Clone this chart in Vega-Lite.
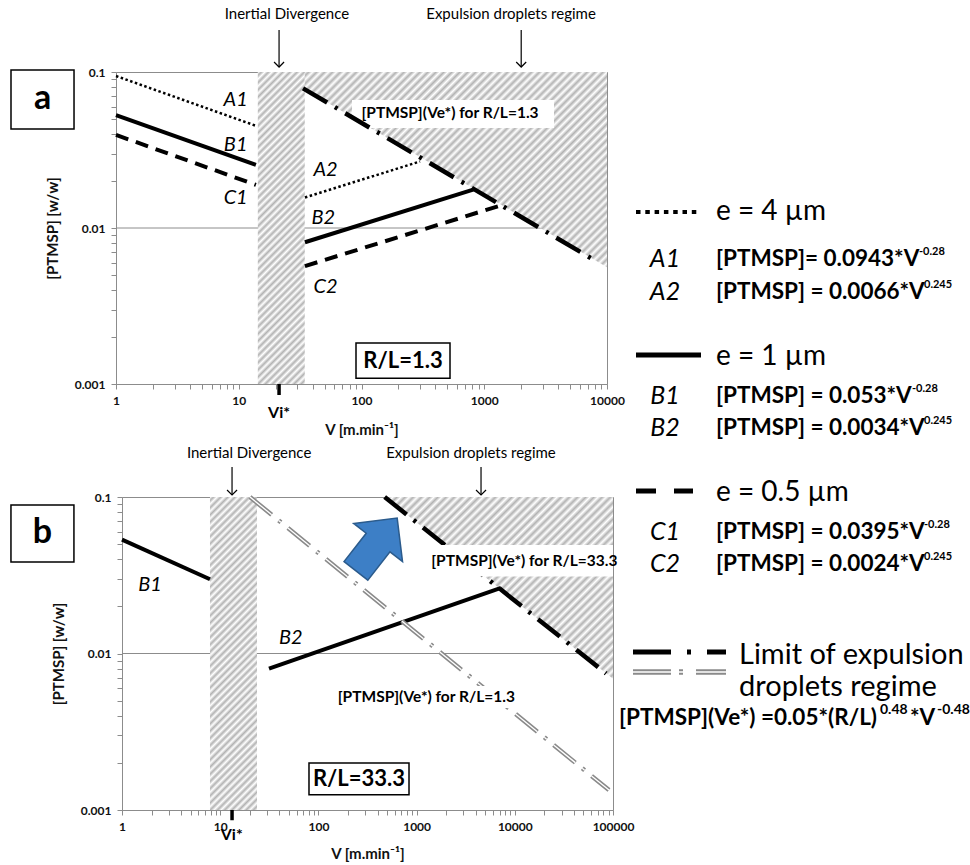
{
"$schema":"https://vega.github.io/schema/vega-lite/v6.json",
"padding":{"left":9,"top":6,"right":0,"bottom":0},
"background":"white",
"config":{"font":"Lato","view":{"stroke":"#8c8c8c","strokeWidth":1},
"axis":{"domainColor":"#8c8c8c","tickColor":"#8c8c8c","labelColor":"#111","titleColor":"#111","labelFontWeight":"bold","titleFontWeight":"bold","labelFontSize":12,"titleFontSize":15,"grid":false,"tickSize":5,"labelFlush":false,"labelOverlap":false},
"text":{"color":"#000"}},
"datasets":{
"aGrid":[{"v":1,"v2":10000,"c":0.01}],
"aBand":[{"v":14.3,"v2":34.5,"c":0.001,"c2":0.1}],
"aHatch":[{"v":34.5,"c":0.0775,"c2":0.1},{"v":10000,"c":0.00561,"c2":0.1}],
"aWhite":[{"v":83.7,"v2":3700,"c":0.0438,"c2":0.0662}],
"aBoxes":[{"v":90.2,"v2":526,"c":0.00109,"c2":0.00183},{"v":0.1395,"v2":0.455,"c":0.0431,"c2":0.103}],
"aLines":[
{"s":"A1","st":"dot","v":1,"c":0.0943},{"s":"A1","st":"dot","v":13.8,"c":0.0452},
{"s":"B1","st":"solid","v":1,"c":0.053},{"s":"B1","st":"solid","v":13.8,"c":0.0254},
{"s":"C1","st":"dash","v":1,"c":0.0395},{"s":"C1","st":"dash","v":13.8,"c":0.0189},
{"s":"A2","st":"dot","v":34.6,"c":0.0157},{"s":"A2","st":"dot","v":300,"c":0.0267},
{"s":"B2","st":"solid","v":34.6,"c":0.0081},{"s":"B2","st":"solid","v":813,"c":0.0176},
{"s":"C2","st":"dash","v":34.6,"c":0.0057},{"s":"C2","st":"dash","v":1340,"c":0.0139},
{"s":"L","st":"dashdot","v":33.4,"c":0.0786},{"s":"L","st":"dashdot","v":8280,"c":0.00608}],
"aText":[
{"k":"lab","t":"A1","v":9.44,"c":0.0662},{"k":"lab","t":"B1","v":9.44,"c":0.034},{"k":"lab","t":"C1","v":9.44,"c":0.0155},
{"k":"lab","t":"A2","v":50.9,"c":0.0235},{"k":"lab","t":"B2","v":48.9,"c":0.01154},{"k":"lab","t":"C2","v":50.9,"c":0.0042},
{"k":"note","t":"[PTMSP](Ve*) for R/L=1.3","v":526,"c":0.0543},
{"k":"box","t":"R/L=1.3","v":218,"c":0.0014},
{"k":"let","t":"a","v":0.252,"c":0.0667},
{"k":"ann","t":"Inertial Divergence","v":24.7,"c":0.2355},
{"k":"ann","t":"Expulsion droplets regime","v":1652,"c":0.2355},
{"k":"vi","t":"Vi*","v":21.3,"c":0.000652}],
"aArrows":[{"v":21.3,"c":0.1076,"c2":0.186},{"v":2000,"c":0.1076,"c2":0.186}],
"aVi":[{"v":21.3,"c":0.00085,"c2":0.001}],
"bGrid":[{"v":1,"v2":100000,"c":0.01}],
"bBand":[{"v":7.87,"v2":23.7,"c":0.001,"c2":0.1}],
"bHatch":[{"v":473,"c":0.1,"c2":0.1},{"v":100000,"c":0.0069,"c2":0.1}],
"bLines":[
{"s":"B1","st":"solid","v":1,"c":0.0534},{"s":"B1","st":"solid","v":7.87,"c":0.0298},
{"s":"B2","st":"solid","v":31.4,"c":0.008},{"s":"B2","st":"solid","v":7240,"c":0.0263},
{"s":"L33","st":"dashdot","v":473,"c":0.1},{"s":"L33","st":"dashdot","v":85000,"c":0.00746},
{"s":"L13","st":"gray","v":20.1,"c":0.1},{"s":"L13","st":"gray","v":91000,"c":0.00134}],
"bWhite":[{"v":1356,"v2":100000,"c":0.031,"c2":0.0493},{"v":151,"v2":10280,"c":0.00449,"c2":0.0062}],
"bBoxes":[{"v":80.2,"v2":837,"c":0.00125,"c2":0.002},{"v":0.074,"v2":0.324,"c":0.0385,"c2":0.0889}],
"bText":[
{"k":"lab","t":"B1","v":1.93,"c":0.0274},{"k":"lab","t":"B2","v":52.4,"c":0.0125},
{"k":"note","t":"[PTMSP](Ve*) for R/L=33.3","v":12500,"c":0.039},
{"k":"note","t":"[PTMSP](Ve*) for R/L=1.3","v":1256,"c":0.0053},
{"k":"box","t":"R/L=33.3","v":259,"c":0.00158},
{"k":"let","t":"b","v":0.155,"c":0.0585},
{"k":"ann","t":"Inertial Divergence","v":19.7,"c":0.191},
{"k":"ann","t":"Expulsion droplets regime","v":3580,"c":0.191},
{"k":"vi","t":"Vi*","v":13.1,"c":0.00069}],
"bArrows":[{"v":13.2,"c":0.103,"c2":0.1556},{"v":4530,"c":0.103,"c2":0.1556}],
"bVi":[{"v":13.2,"c":0.00086,"c2":0.001}],
"bBlue":[{"v":391,"c":0.0497}],
"legL":[
{"s":"dot","lx":20,"ly":140},{"s":"dot","lx":85,"ly":140},
{"s":"solid","lx":20,"ly":283},{"s":"solid","lx":85,"ly":283},
{"s":"dash","lx":20,"ly":419},{"s":"dash","lx":77,"ly":419},
{"s":"dd","lx":17,"ly":580},{"s":"dd","lx":110,"ly":580},
{"s":"gd","lx":17,"ly":600},{"s":"gd","lx":110,"ly":600}],
"leg":[
{"k":"e","t":"e = 4 µm","lx":100,"ly":140},
{"k":"e","t":"e = 1 µm","lx":100,"ly":285},
{"k":"e","t":"e = 0.5 µm","lx":100,"ly":421},
{"k":"it","t":"A1","lx":49,"ly":187},
{"k":"it","t":"A2","lx":49,"ly":220},
{"k":"it","t":"B1","lx":49,"ly":324},
{"k":"it","t":"B2","lx":49,"ly":356},
{"k":"it","t":"C1","lx":49,"ly":460},
{"k":"it","t":"C2","lx":49,"ly":492},
{"k":"eq","t":"[PTMSP]= 0.0943*V","lx":100,"ly":187},
{"k":"eq","t":"[PTMSP] = 0.0066*V","lx":100,"ly":220},
{"k":"eq","t":"[PTMSP] = 0.053*V","lx":100,"ly":324},
{"k":"eq","t":"[PTMSP] = 0.0034*V","lx":100,"ly":356},
{"k":"eq","t":"[PTMSP] = 0.0395*V","lx":100,"ly":460},
{"k":"eq","t":"[PTMSP] = 0.0024*V","lx":100,"ly":492},
{"k":"sup","t":"-0.28","lx":303,"ly":180},
{"k":"sup","t":"0.245","lx":308,"ly":213},
{"k":"sup","t":"-0.28","lx":296,"ly":317},
{"k":"sup","t":"0.245","lx":308,"ly":349},
{"k":"sup","t":"-0.28","lx":308,"ly":453},
{"k":"sup","t":"0.245","lx":308,"ly":485},
{"k":"big","t":"Limit of expulsion","lx":123,"ly":583},
{"k":"big","t":"droplets regime","lx":123,"ly":615},
{"k":"fm","t":"[PTMSP](Ve*) =0.05*(R/L)","lx":3,"ly":646},
{"k":"fm","t":"*V","lx":294,"ly":646},
{"k":"fs","t":"0.48","lx":264,"ly":638},
{"k":"fs","t":"-0.48","lx":321,"ly":638}]
},
"vconcat":[
{"width":491,"height":312,
"resolve":{"scale":{"x":"independent","y":"independent"}},
"layer":[
{"encoding":{
"x":{"field":"v","type":"quantitative","scale":{"type":"log","domain":[1,10000],"nice":false},
"axis":{"title":"V [m.min⁻¹]","values":[1,2,3,4,5,6,7,8,9,10,20,30,40,50,60,70,80,90,100,200,300,400,500,600,700,800,900,1000,2000,3000,4000,5000,6000,7000,8000,9000,10000],"format":"d","labelExpr":"indexof([1,10,100,1000,10000,100000],datum.value)>=0?datum.label:''","labelPadding":6,"titlePadding":16}},
"y":{"field":"c","type":"quantitative","scale":{"type":"log","domain":[0.001,0.1],"nice":false},
"axis":{"title":"[PTMSP] [w/w]","values":[0.001,0.002,0.003,0.004,0.005,0.006,0.007,0.008,0.009,0.01,0.02,0.03,0.04,0.05,0.06,0.07,0.08,0.09,0.1],"format":"~g","labelExpr":"indexof([0.001,0.01,0.1],datum.value)>=0?datum.label:''","labelPadding":6,"titlePadding":14}}},
"layer":[
{"data":{"name":"aGrid"},"mark":{"type":"rule","color":"#8c8c8c","strokeWidth":1},"encoding":{"x2":{"field":"v2"}}},
{"data":{"name":"aBand"},"mark":{"type":"rect","fill":{"gradient":"linear","x1":0,"y1":0,"x2":0.1695,"y2":1.125,"stops":[{"offset":0,"color":"#fff"},{"offset":0.01,"color":"#b3b3b3"},{"offset":0.02,"color":"#fff"},{"offset":0.03,"color":"#b3b3b3"},{"offset":0.04,"color":"#fff"},{"offset":0.05,"color":"#b3b3b3"},{"offset":0.06,"color":"#fff"},{"offset":0.07,"color":"#b3b3b3"},{"offset":0.08,"color":"#fff"},{"offset":0.09,"color":"#b3b3b3"},{"offset":0.1,"color":"#fff"},{"offset":0.11,"color":"#b3b3b3"},{"offset":0.12,"color":"#fff"},{"offset":0.13,"color":"#b3b3b3"},{"offset":0.14,"color":"#fff"},{"offset":0.15,"color":"#b3b3b3"},{"offset":0.16,"color":"#fff"},{"offset":0.17,"color":"#b3b3b3"},{"offset":0.18,"color":"#fff"},{"offset":0.19,"color":"#b3b3b3"},{"offset":0.2,"color":"#fff"},{"offset":0.21,"color":"#b3b3b3"},{"offset":0.22,"color":"#fff"},{"offset":0.23,"color":"#b3b3b3"},{"offset":0.24,"color":"#fff"},{"offset":0.25,"color":"#b3b3b3"},{"offset":0.26,"color":"#fff"},{"offset":0.27,"color":"#b3b3b3"},{"offset":0.28,"color":"#fff"},{"offset":0.29,"color":"#b3b3b3"},{"offset":0.3,"color":"#fff"},{"offset":0.31,"color":"#b3b3b3"},{"offset":0.32,"color":"#fff"},{"offset":0.33,"color":"#b3b3b3"},{"offset":0.34,"color":"#fff"},{"offset":0.35,"color":"#b3b3b3"},{"offset":0.36,"color":"#fff"},{"offset":0.37,"color":"#b3b3b3"},{"offset":0.38,"color":"#fff"},{"offset":0.39,"color":"#b3b3b3"},{"offset":0.4,"color":"#fff"},{"offset":0.41,"color":"#b3b3b3"},{"offset":0.42,"color":"#fff"},{"offset":0.43,"color":"#b3b3b3"},{"offset":0.44,"color":"#fff"},{"offset":0.45,"color":"#b3b3b3"},{"offset":0.46,"color":"#fff"},{"offset":0.47,"color":"#b3b3b3"},{"offset":0.48,"color":"#fff"},{"offset":0.49,"color":"#b3b3b3"},{"offset":0.5,"color":"#fff"},{"offset":0.51,"color":"#b3b3b3"},{"offset":0.52,"color":"#fff"},{"offset":0.53,"color":"#b3b3b3"},{"offset":0.54,"color":"#fff"},{"offset":0.55,"color":"#b3b3b3"},{"offset":0.56,"color":"#fff"},{"offset":0.57,"color":"#b3b3b3"},{"offset":0.58,"color":"#fff"},{"offset":0.59,"color":"#b3b3b3"},{"offset":0.6,"color":"#fff"},{"offset":0.61,"color":"#b3b3b3"},{"offset":0.62,"color":"#fff"},{"offset":0.63,"color":"#b3b3b3"},{"offset":0.64,"color":"#fff"},{"offset":0.65,"color":"#b3b3b3"},{"offset":0.66,"color":"#fff"},{"offset":0.67,"color":"#b3b3b3"},{"offset":0.68,"color":"#fff"},{"offset":0.69,"color":"#b3b3b3"},{"offset":0.7,"color":"#fff"},{"offset":0.71,"color":"#b3b3b3"},{"offset":0.72,"color":"#fff"},{"offset":0.73,"color":"#b3b3b3"},{"offset":0.74,"color":"#fff"},{"offset":0.75,"color":"#b3b3b3"},{"offset":0.76,"color":"#fff"},{"offset":0.77,"color":"#b3b3b3"},{"offset":0.78,"color":"#fff"},{"offset":0.79,"color":"#b3b3b3"},{"offset":0.8,"color":"#fff"},{"offset":0.81,"color":"#b3b3b3"},{"offset":0.82,"color":"#fff"},{"offset":0.83,"color":"#b3b3b3"},{"offset":0.84,"color":"#fff"},{"offset":0.85,"color":"#b3b3b3"},{"offset":0.86,"color":"#fff"},{"offset":0.87,"color":"#b3b3b3"},{"offset":0.88,"color":"#fff"},{"offset":0.89,"color":"#b3b3b3"},{"offset":0.9,"color":"#fff"},{"offset":0.91,"color":"#b3b3b3"},{"offset":0.92,"color":"#fff"},{"offset":0.93,"color":"#b3b3b3"},{"offset":0.94,"color":"#fff"},{"offset":0.95,"color":"#b3b3b3"},{"offset":0.96,"color":"#fff"},{"offset":0.97,"color":"#b3b3b3"},{"offset":0.98,"color":"#fff"},{"offset":0.99,"color":"#b3b3b3"},{"offset":1,"color":"#fff"}]}},"encoding":{"x2":{"field":"v2"},"y2":{"field":"c2"}}},
{"data":{"name":"aHatch"},"mark":{"type":"area","line":false,"fill":{"gradient":"linear","x1":0,"y1":0,"x2":1.1615,"y2":0.75,"stops":[{"offset":0,"color":"#fff"},{"offset":0.008,"color":"#b3b3b3"},{"offset":0.016,"color":"#fff"},{"offset":0.024,"color":"#b3b3b3"},{"offset":0.032,"color":"#fff"},{"offset":0.04,"color":"#b3b3b3"},{"offset":0.048,"color":"#fff"},{"offset":0.056,"color":"#b3b3b3"},{"offset":0.064,"color":"#fff"},{"offset":0.072,"color":"#b3b3b3"},{"offset":0.08,"color":"#fff"},{"offset":0.088,"color":"#b3b3b3"},{"offset":0.096,"color":"#fff"},{"offset":0.104,"color":"#b3b3b3"},{"offset":0.112,"color":"#fff"},{"offset":0.12,"color":"#b3b3b3"},{"offset":0.128,"color":"#fff"},{"offset":0.136,"color":"#b3b3b3"},{"offset":0.144,"color":"#fff"},{"offset":0.152,"color":"#b3b3b3"},{"offset":0.16,"color":"#fff"},{"offset":0.168,"color":"#b3b3b3"},{"offset":0.176,"color":"#fff"},{"offset":0.184,"color":"#b3b3b3"},{"offset":0.192,"color":"#fff"},{"offset":0.2,"color":"#b3b3b3"},{"offset":0.208,"color":"#fff"},{"offset":0.216,"color":"#b3b3b3"},{"offset":0.224,"color":"#fff"},{"offset":0.232,"color":"#b3b3b3"},{"offset":0.24,"color":"#fff"},{"offset":0.248,"color":"#b3b3b3"},{"offset":0.256,"color":"#fff"},{"offset":0.264,"color":"#b3b3b3"},{"offset":0.272,"color":"#fff"},{"offset":0.28,"color":"#b3b3b3"},{"offset":0.288,"color":"#fff"},{"offset":0.296,"color":"#b3b3b3"},{"offset":0.304,"color":"#fff"},{"offset":0.312,"color":"#b3b3b3"},{"offset":0.32,"color":"#fff"},{"offset":0.328,"color":"#b3b3b3"},{"offset":0.336,"color":"#fff"},{"offset":0.344,"color":"#b3b3b3"},{"offset":0.352,"color":"#fff"},{"offset":0.36,"color":"#b3b3b3"},{"offset":0.368,"color":"#fff"},{"offset":0.376,"color":"#b3b3b3"},{"offset":0.384,"color":"#fff"},{"offset":0.392,"color":"#b3b3b3"},{"offset":0.4,"color":"#fff"},{"offset":0.408,"color":"#b3b3b3"},{"offset":0.416,"color":"#fff"},{"offset":0.424,"color":"#b3b3b3"},{"offset":0.432,"color":"#fff"},{"offset":0.44,"color":"#b3b3b3"},{"offset":0.448,"color":"#fff"},{"offset":0.456,"color":"#b3b3b3"},{"offset":0.464,"color":"#fff"},{"offset":0.472,"color":"#b3b3b3"},{"offset":0.48,"color":"#fff"},{"offset":0.488,"color":"#b3b3b3"},{"offset":0.496,"color":"#fff"},{"offset":0.504,"color":"#b3b3b3"},{"offset":0.512,"color":"#fff"},{"offset":0.52,"color":"#b3b3b3"},{"offset":0.528,"color":"#fff"},{"offset":0.536,"color":"#b3b3b3"},{"offset":0.544,"color":"#fff"},{"offset":0.552,"color":"#b3b3b3"},{"offset":0.56,"color":"#fff"},{"offset":0.568,"color":"#b3b3b3"},{"offset":0.576,"color":"#fff"},{"offset":0.584,"color":"#b3b3b3"},{"offset":0.592,"color":"#fff"},{"offset":0.6,"color":"#b3b3b3"},{"offset":0.608,"color":"#fff"},{"offset":0.616,"color":"#b3b3b3"},{"offset":0.624,"color":"#fff"},{"offset":0.632,"color":"#b3b3b3"},{"offset":0.64,"color":"#fff"},{"offset":0.648,"color":"#b3b3b3"},{"offset":0.656,"color":"#fff"},{"offset":0.664,"color":"#b3b3b3"},{"offset":0.672,"color":"#fff"},{"offset":0.68,"color":"#b3b3b3"},{"offset":0.688,"color":"#fff"},{"offset":0.696,"color":"#b3b3b3"},{"offset":0.704,"color":"#fff"},{"offset":0.712,"color":"#b3b3b3"},{"offset":0.72,"color":"#fff"},{"offset":0.728,"color":"#b3b3b3"},{"offset":0.736,"color":"#fff"},{"offset":0.744,"color":"#b3b3b3"},{"offset":0.752,"color":"#fff"},{"offset":0.76,"color":"#b3b3b3"},{"offset":0.768,"color":"#fff"},{"offset":0.776,"color":"#b3b3b3"},{"offset":0.784,"color":"#fff"},{"offset":0.792,"color":"#b3b3b3"},{"offset":0.8,"color":"#fff"},{"offset":0.808,"color":"#b3b3b3"},{"offset":0.816,"color":"#fff"},{"offset":0.824,"color":"#b3b3b3"},{"offset":0.832,"color":"#fff"},{"offset":0.84,"color":"#b3b3b3"},{"offset":0.848,"color":"#fff"},{"offset":0.856,"color":"#b3b3b3"},{"offset":0.864,"color":"#fff"},{"offset":0.872,"color":"#b3b3b3"},{"offset":0.88,"color":"#fff"},{"offset":0.888,"color":"#b3b3b3"},{"offset":0.896,"color":"#fff"},{"offset":0.904,"color":"#b3b3b3"},{"offset":0.912,"color":"#fff"},{"offset":0.92,"color":"#b3b3b3"},{"offset":0.928,"color":"#fff"},{"offset":0.936,"color":"#b3b3b3"},{"offset":0.944,"color":"#fff"},{"offset":0.952,"color":"#b3b3b3"},{"offset":0.96,"color":"#fff"},{"offset":0.968,"color":"#b3b3b3"},{"offset":0.976,"color":"#fff"},{"offset":0.984,"color":"#b3b3b3"},{"offset":0.992,"color":"#fff"},{"offset":1,"color":"#b3b3b3"}]}},"encoding":{"y2":{"field":"c2"}}},
{"data":{"name":"aWhite"},"mark":{"type":"rect","fill":"white"},"encoding":{"x2":{"field":"v2"},"y2":{"field":"c2"}}},
{"data":{"name":"aLines"},"transform":[{"filter":"datum.st=='dot'"}],"mark":{"type":"line","color":"black","strokeWidth":2.5,"strokeDash":[2.5,2.5]},"encoding":{"detail":{"field":"s"}}},
{"data":{"name":"aLines"},"transform":[{"filter":"datum.st=='solid'"}],"mark":{"type":"line","color":"black","strokeWidth":4},"encoding":{"detail":{"field":"s"}}},
{"data":{"name":"aLines"},"transform":[{"filter":"datum.st=='dash'"}],"mark":{"type":"line","color":"black","strokeWidth":4,"strokeDash":[13,8]},"encoding":{"detail":{"field":"s"}}},
{"data":{"name":"aLines"},"transform":[{"filter":"datum.st=='dashdot'"}],"mark":{"type":"line","color":"black","strokeWidth":4.5,"strokeDash":[28,9,3,9]},"encoding":{"detail":{"field":"s"}}},
{"data":{"name":"aBoxes"},"mark":{"type":"rect","fill":"white","stroke":"black","strokeWidth":1.5},"encoding":{"x2":{"field":"v2"},"y2":{"field":"c2"}}},
{"data":{"name":"aText"},"transform":[{"filter":"datum.k=='lab'"}],"mark":{"type":"text","fontSize":20,"fontStyle":"italic"},"encoding":{"text":{"field":"t"}}},
{"data":{"name":"aText"},"transform":[{"filter":"datum.k=='note'"}],"mark":{"type":"text","fontSize":15.5,"fontWeight":"bold"},"encoding":{"text":{"field":"t"}}},
{"data":{"name":"aText"},"transform":[{"filter":"datum.k=='box'"}],"mark":{"type":"text","fontSize":22,"fontWeight":"bold"},"encoding":{"text":{"field":"t"}}},
{"data":{"name":"aText"},"transform":[{"filter":"datum.k=='let'"}],"mark":{"type":"text","fontSize":34,"fontWeight":"bold"},"encoding":{"text":{"field":"t"}}},
{"data":{"name":"aText"},"transform":[{"filter":"datum.k=='ann'"}],"mark":{"type":"text","fontSize":15},"encoding":{"text":{"field":"t"}}},
{"data":{"name":"aText"},"transform":[{"filter":"datum.k=='vi'"}],"mark":{"type":"text","fontSize":16,"fontWeight":"bold"},"encoding":{"text":{"field":"t"}}},
{"data":{"name":"aArrows"},"mark":{"type":"rule","color":"black","strokeWidth":1.2},"encoding":{"y2":{"field":"c2"}}},
{"data":{"name":"aArrows"},"mark":{"type":"point","shape":"M-1,-1L0,0L1,-1","filled":false,"stroke":"black","strokeWidth":1.2,"size":100,"opacity":1}},
{"data":{"name":"aVi"},"mark":{"type":"rule","color":"black","strokeWidth":3.5},"encoding":{"y2":{"field":"c2"}}}
]},
{"encoding":{"x":{"field":"lx","type":"quantitative","scale":{"domain":[-500,-9]},"axis":null},
"y":{"field":"ly","type":"quantitative","scale":{"domain":[0,312],"reverse":true},"axis":null}},
"layer":[
{"data":{"name":"legL"},"transform":[{"filter":"datum.s=='dot'"}],"mark":{"type":"line","color":"black","strokeWidth":4,"strokeDash":[4.5,4.8]}},
{"data":{"name":"legL"},"transform":[{"filter":"datum.s=='solid'"}],"mark":{"type":"line","color":"black","strokeWidth":5}},
{"data":{"name":"legL"},"transform":[{"filter":"datum.s=='dash'"}],"mark":{"type":"line","color":"black","strokeWidth":5,"strokeDash":[20,18]}},
{"data":{"name":"legL"},"transform":[{"filter":"datum.s=='dd'"}],"mark":{"type":"line","color":"black","strokeWidth":5,"strokeDash":[38,16,4,16]}},
{"data":{"name":"legL"},"transform":[{"filter":"datum.s=='gd'"}],"mark":{"type":"line","color":"#8a8a8a","strokeWidth":5.5,"strokeDash":[38,8,4,13]}},
{"data":{"name":"legL"},"transform":[{"filter":"datum.s=='gd'"}],"mark":{"type":"line","color":"white","strokeWidth":1.5,"strokeDash":[38,8,4,13]}},
{"data":{"name":"leg"},"transform":[{"filter":"datum.k=='e'"}],"mark":{"type":"text","fontSize":28,"align":"left"},"encoding":{"text":{"field":"t"}}},
{"data":{"name":"leg"},"transform":[{"filter":"datum.k=='it'"}],"mark":{"type":"text","fontSize":25,"fontStyle":"italic","align":"center"},"encoding":{"text":{"field":"t"}}},
{"data":{"name":"leg"},"transform":[{"filter":"datum.k=='eq'"}],"mark":{"type":"text","fontSize":22.5,"fontWeight":"bold","align":"left"},"encoding":{"text":{"field":"t"}}},
{"data":{"name":"leg"},"transform":[{"filter":"datum.k=='sup'"}],"mark":{"type":"text","fontSize":11,"fontWeight":"bold","align":"left"},"encoding":{"text":{"field":"t"}}},
{"data":{"name":"leg"},"transform":[{"filter":"datum.k=='big'"}],"mark":{"type":"text","fontSize":29,"align":"left"},"encoding":{"text":{"field":"t"}}},
{"data":{"name":"leg"},"transform":[{"filter":"datum.k=='fm'"}],"mark":{"type":"text","fontSize":22.5,"fontWeight":"bold","align":"left"},"encoding":{"text":{"field":"t"}}},
{"data":{"name":"leg"},"transform":[{"filter":"datum.k=='fs'"}],"mark":{"type":"text","fontSize":14,"fontWeight":"bold","align":"left"},"encoding":{"text":{"field":"t"}}}
]}
]},
{"hconcat":[
{"width":6,"height":313,"view":{"stroke":null},"data":{"values":[{"z":1}]},"mark":{"type":"point","opacity":0}},
{"width":491,"height":313,
"encoding":{
"x":{"field":"v","type":"quantitative","scale":{"type":"log","domain":[1,100000],"nice":false},
"axis":{"title":"V [m.min⁻¹]","values":[1,2,3,4,5,6,7,8,9,10,20,30,40,50,60,70,80,90,100,200,300,400,500,600,700,800,900,1000,2000,3000,4000,5000,6000,7000,8000,9000,10000,20000,30000,40000,50000,60000,70000,80000,90000,100000],"format":"d","labelExpr":"indexof([1,10,100,1000,10000,100000],datum.value)>=0?datum.label:''","labelPadding":6,"titlePadding":14}},
"y":{"field":"c","type":"quantitative","scale":{"type":"log","domain":[0.001,0.1],"nice":false},
"axis":{"title":"[PTMSP] [w/w]","values":[0.001,0.002,0.003,0.004,0.005,0.006,0.007,0.008,0.009,0.01,0.02,0.03,0.04,0.05,0.06,0.07,0.08,0.09,0.1],"format":"~g","labelExpr":"indexof([0.001,0.01,0.1],datum.value)>=0?datum.label:''","labelPadding":6,"titlePadding":14}}},
"layer":[
{"data":{"name":"bGrid"},"mark":{"type":"rule","color":"#8c8c8c","strokeWidth":1},"encoding":{"x2":{"field":"v2"}}},
{"data":{"name":"bBand"},"mark":{"type":"rect","fill":{"gradient":"linear","x1":0,"y1":0,"x2":0.1695,"y2":1.125,"stops":[{"offset":0,"color":"#fff"},{"offset":0.01,"color":"#b3b3b3"},{"offset":0.02,"color":"#fff"},{"offset":0.03,"color":"#b3b3b3"},{"offset":0.04,"color":"#fff"},{"offset":0.05,"color":"#b3b3b3"},{"offset":0.06,"color":"#fff"},{"offset":0.07,"color":"#b3b3b3"},{"offset":0.08,"color":"#fff"},{"offset":0.09,"color":"#b3b3b3"},{"offset":0.1,"color":"#fff"},{"offset":0.11,"color":"#b3b3b3"},{"offset":0.12,"color":"#fff"},{"offset":0.13,"color":"#b3b3b3"},{"offset":0.14,"color":"#fff"},{"offset":0.15,"color":"#b3b3b3"},{"offset":0.16,"color":"#fff"},{"offset":0.17,"color":"#b3b3b3"},{"offset":0.18,"color":"#fff"},{"offset":0.19,"color":"#b3b3b3"},{"offset":0.2,"color":"#fff"},{"offset":0.21,"color":"#b3b3b3"},{"offset":0.22,"color":"#fff"},{"offset":0.23,"color":"#b3b3b3"},{"offset":0.24,"color":"#fff"},{"offset":0.25,"color":"#b3b3b3"},{"offset":0.26,"color":"#fff"},{"offset":0.27,"color":"#b3b3b3"},{"offset":0.28,"color":"#fff"},{"offset":0.29,"color":"#b3b3b3"},{"offset":0.3,"color":"#fff"},{"offset":0.31,"color":"#b3b3b3"},{"offset":0.32,"color":"#fff"},{"offset":0.33,"color":"#b3b3b3"},{"offset":0.34,"color":"#fff"},{"offset":0.35,"color":"#b3b3b3"},{"offset":0.36,"color":"#fff"},{"offset":0.37,"color":"#b3b3b3"},{"offset":0.38,"color":"#fff"},{"offset":0.39,"color":"#b3b3b3"},{"offset":0.4,"color":"#fff"},{"offset":0.41,"color":"#b3b3b3"},{"offset":0.42,"color":"#fff"},{"offset":0.43,"color":"#b3b3b3"},{"offset":0.44,"color":"#fff"},{"offset":0.45,"color":"#b3b3b3"},{"offset":0.46,"color":"#fff"},{"offset":0.47,"color":"#b3b3b3"},{"offset":0.48,"color":"#fff"},{"offset":0.49,"color":"#b3b3b3"},{"offset":0.5,"color":"#fff"},{"offset":0.51,"color":"#b3b3b3"},{"offset":0.52,"color":"#fff"},{"offset":0.53,"color":"#b3b3b3"},{"offset":0.54,"color":"#fff"},{"offset":0.55,"color":"#b3b3b3"},{"offset":0.56,"color":"#fff"},{"offset":0.57,"color":"#b3b3b3"},{"offset":0.58,"color":"#fff"},{"offset":0.59,"color":"#b3b3b3"},{"offset":0.6,"color":"#fff"},{"offset":0.61,"color":"#b3b3b3"},{"offset":0.62,"color":"#fff"},{"offset":0.63,"color":"#b3b3b3"},{"offset":0.64,"color":"#fff"},{"offset":0.65,"color":"#b3b3b3"},{"offset":0.66,"color":"#fff"},{"offset":0.67,"color":"#b3b3b3"},{"offset":0.68,"color":"#fff"},{"offset":0.69,"color":"#b3b3b3"},{"offset":0.7,"color":"#fff"},{"offset":0.71,"color":"#b3b3b3"},{"offset":0.72,"color":"#fff"},{"offset":0.73,"color":"#b3b3b3"},{"offset":0.74,"color":"#fff"},{"offset":0.75,"color":"#b3b3b3"},{"offset":0.76,"color":"#fff"},{"offset":0.77,"color":"#b3b3b3"},{"offset":0.78,"color":"#fff"},{"offset":0.79,"color":"#b3b3b3"},{"offset":0.8,"color":"#fff"},{"offset":0.81,"color":"#b3b3b3"},{"offset":0.82,"color":"#fff"},{"offset":0.83,"color":"#b3b3b3"},{"offset":0.84,"color":"#fff"},{"offset":0.85,"color":"#b3b3b3"},{"offset":0.86,"color":"#fff"},{"offset":0.87,"color":"#b3b3b3"},{"offset":0.88,"color":"#fff"},{"offset":0.89,"color":"#b3b3b3"},{"offset":0.9,"color":"#fff"},{"offset":0.91,"color":"#b3b3b3"},{"offset":0.92,"color":"#fff"},{"offset":0.93,"color":"#b3b3b3"},{"offset":0.94,"color":"#fff"},{"offset":0.95,"color":"#b3b3b3"},{"offset":0.96,"color":"#fff"},{"offset":0.97,"color":"#b3b3b3"},{"offset":0.98,"color":"#fff"},{"offset":0.99,"color":"#b3b3b3"},{"offset":1,"color":"#fff"}]}},"encoding":{"x2":{"field":"v2"},"y2":{"field":"c2"}}},
{"data":{"name":"bHatch"},"mark":{"type":"area","line":false,"fill":{"gradient":"linear","x1":0,"y1":0,"x2":1.098,"y2":0.877,"stops":[{"offset":0,"color":"#fff"},{"offset":0.01,"color":"#b3b3b3"},{"offset":0.02,"color":"#fff"},{"offset":0.03,"color":"#b3b3b3"},{"offset":0.04,"color":"#fff"},{"offset":0.05,"color":"#b3b3b3"},{"offset":0.06,"color":"#fff"},{"offset":0.07,"color":"#b3b3b3"},{"offset":0.08,"color":"#fff"},{"offset":0.09,"color":"#b3b3b3"},{"offset":0.1,"color":"#fff"},{"offset":0.11,"color":"#b3b3b3"},{"offset":0.12,"color":"#fff"},{"offset":0.13,"color":"#b3b3b3"},{"offset":0.14,"color":"#fff"},{"offset":0.15,"color":"#b3b3b3"},{"offset":0.16,"color":"#fff"},{"offset":0.17,"color":"#b3b3b3"},{"offset":0.18,"color":"#fff"},{"offset":0.19,"color":"#b3b3b3"},{"offset":0.2,"color":"#fff"},{"offset":0.21,"color":"#b3b3b3"},{"offset":0.22,"color":"#fff"},{"offset":0.23,"color":"#b3b3b3"},{"offset":0.24,"color":"#fff"},{"offset":0.25,"color":"#b3b3b3"},{"offset":0.26,"color":"#fff"},{"offset":0.27,"color":"#b3b3b3"},{"offset":0.28,"color":"#fff"},{"offset":0.29,"color":"#b3b3b3"},{"offset":0.3,"color":"#fff"},{"offset":0.31,"color":"#b3b3b3"},{"offset":0.32,"color":"#fff"},{"offset":0.33,"color":"#b3b3b3"},{"offset":0.34,"color":"#fff"},{"offset":0.35,"color":"#b3b3b3"},{"offset":0.36,"color":"#fff"},{"offset":0.37,"color":"#b3b3b3"},{"offset":0.38,"color":"#fff"},{"offset":0.39,"color":"#b3b3b3"},{"offset":0.4,"color":"#fff"},{"offset":0.41,"color":"#b3b3b3"},{"offset":0.42,"color":"#fff"},{"offset":0.43,"color":"#b3b3b3"},{"offset":0.44,"color":"#fff"},{"offset":0.45,"color":"#b3b3b3"},{"offset":0.46,"color":"#fff"},{"offset":0.47,"color":"#b3b3b3"},{"offset":0.48,"color":"#fff"},{"offset":0.49,"color":"#b3b3b3"},{"offset":0.5,"color":"#fff"},{"offset":0.51,"color":"#b3b3b3"},{"offset":0.52,"color":"#fff"},{"offset":0.53,"color":"#b3b3b3"},{"offset":0.54,"color":"#fff"},{"offset":0.55,"color":"#b3b3b3"},{"offset":0.56,"color":"#fff"},{"offset":0.57,"color":"#b3b3b3"},{"offset":0.58,"color":"#fff"},{"offset":0.59,"color":"#b3b3b3"},{"offset":0.6,"color":"#fff"},{"offset":0.61,"color":"#b3b3b3"},{"offset":0.62,"color":"#fff"},{"offset":0.63,"color":"#b3b3b3"},{"offset":0.64,"color":"#fff"},{"offset":0.65,"color":"#b3b3b3"},{"offset":0.66,"color":"#fff"},{"offset":0.67,"color":"#b3b3b3"},{"offset":0.68,"color":"#fff"},{"offset":0.69,"color":"#b3b3b3"},{"offset":0.7,"color":"#fff"},{"offset":0.71,"color":"#b3b3b3"},{"offset":0.72,"color":"#fff"},{"offset":0.73,"color":"#b3b3b3"},{"offset":0.74,"color":"#fff"},{"offset":0.75,"color":"#b3b3b3"},{"offset":0.76,"color":"#fff"},{"offset":0.77,"color":"#b3b3b3"},{"offset":0.78,"color":"#fff"},{"offset":0.79,"color":"#b3b3b3"},{"offset":0.8,"color":"#fff"},{"offset":0.81,"color":"#b3b3b3"},{"offset":0.82,"color":"#fff"},{"offset":0.83,"color":"#b3b3b3"},{"offset":0.84,"color":"#fff"},{"offset":0.85,"color":"#b3b3b3"},{"offset":0.86,"color":"#fff"},{"offset":0.87,"color":"#b3b3b3"},{"offset":0.88,"color":"#fff"},{"offset":0.89,"color":"#b3b3b3"},{"offset":0.9,"color":"#fff"},{"offset":0.91,"color":"#b3b3b3"},{"offset":0.92,"color":"#fff"},{"offset":0.93,"color":"#b3b3b3"},{"offset":0.94,"color":"#fff"},{"offset":0.95,"color":"#b3b3b3"},{"offset":0.96,"color":"#fff"},{"offset":0.97,"color":"#b3b3b3"},{"offset":0.98,"color":"#fff"},{"offset":0.99,"color":"#b3b3b3"},{"offset":1,"color":"#fff"}]}},"encoding":{"y2":{"field":"c2"}}},
{"data":{"name":"bLines"},"transform":[{"filter":"datum.st=='solid'"}],"mark":{"type":"line","color":"black","strokeWidth":4},"encoding":{"detail":{"field":"s"}}},
{"data":{"name":"bLines"},"transform":[{"filter":"datum.st=='gray'"}],"mark":{"type":"line","color":"#8a8a8a","strokeWidth":4.5,"strokeDash":[28,9,3,9]},"encoding":{"detail":{"field":"s"}}},
{"data":{"name":"bLines"},"transform":[{"filter":"datum.st=='gray'"}],"mark":{"type":"line","color":"white","strokeWidth":1.3,"strokeDash":[28,9,3,9]},"encoding":{"detail":{"field":"s"}}},
{"data":{"name":"bLines"},"transform":[{"filter":"datum.st=='dashdot'"}],"mark":{"type":"line","color":"black","strokeWidth":4.5,"strokeDash":[28,9,3,9]},"encoding":{"detail":{"field":"s"}}},
{"data":{"name":"bWhite"},"mark":{"type":"rect","fill":"white"},"encoding":{"x2":{"field":"v2"},"y2":{"field":"c2"}}},
{"data":{"name":"bBoxes"},"mark":{"type":"rect","fill":"white","stroke":"black","strokeWidth":1.5},"encoding":{"x2":{"field":"v2"},"y2":{"field":"c2"}}},
{"data":{"name":"bText"},"transform":[{"filter":"datum.k=='lab'"}],"mark":{"type":"text","fontSize":20,"fontStyle":"italic"},"encoding":{"text":{"field":"t"}}},
{"data":{"name":"bText"},"transform":[{"filter":"datum.k=='note'"}],"mark":{"type":"text","fontSize":15.5,"fontWeight":"bold"},"encoding":{"text":{"field":"t"}}},
{"data":{"name":"bText"},"transform":[{"filter":"datum.k=='box'"}],"mark":{"type":"text","fontSize":22,"fontWeight":"bold"},"encoding":{"text":{"field":"t"}}},
{"data":{"name":"bText"},"transform":[{"filter":"datum.k=='let'"}],"mark":{"type":"text","fontSize":34,"fontWeight":"bold"},"encoding":{"text":{"field":"t"}}},
{"data":{"name":"bText"},"transform":[{"filter":"datum.k=='ann'"}],"mark":{"type":"text","fontSize":15},"encoding":{"text":{"field":"t"}}},
{"data":{"name":"bText"},"transform":[{"filter":"datum.k=='vi'"}],"mark":{"type":"text","fontSize":16,"fontWeight":"bold"},"encoding":{"text":{"field":"t"}}},
{"data":{"name":"bArrows"},"mark":{"type":"rule","color":"black","strokeWidth":1.2},"encoding":{"y2":{"field":"c2"}}},
{"data":{"name":"bArrows"},"mark":{"type":"point","shape":"M-1,-1L0,0L1,-1","filled":false,"stroke":"black","strokeWidth":1.2,"size":100,"opacity":1}},
{"data":{"name":"bVi"},"mark":{"type":"rule","color":"black","strokeWidth":3.5},"encoding":{"y2":{"field":"c2"}}},
{"data":{"name":"bBlue"},"mark":{"type":"point","shape":"M0,-1L0.925,-0.075L0.45,-0.075L0.45,1L-0.45,1L-0.45,-0.075L-0.925,-0.075Z","filled":true,"fill":"#3d7fc6","stroke":"#2b5b8c","strokeWidth":1.5,"size":4489,"angle":38,"opacity":1}}
]}
],"spacing":0,"bounds":"flush"}
],
"spacing":113,
"bounds":"flush"
}
